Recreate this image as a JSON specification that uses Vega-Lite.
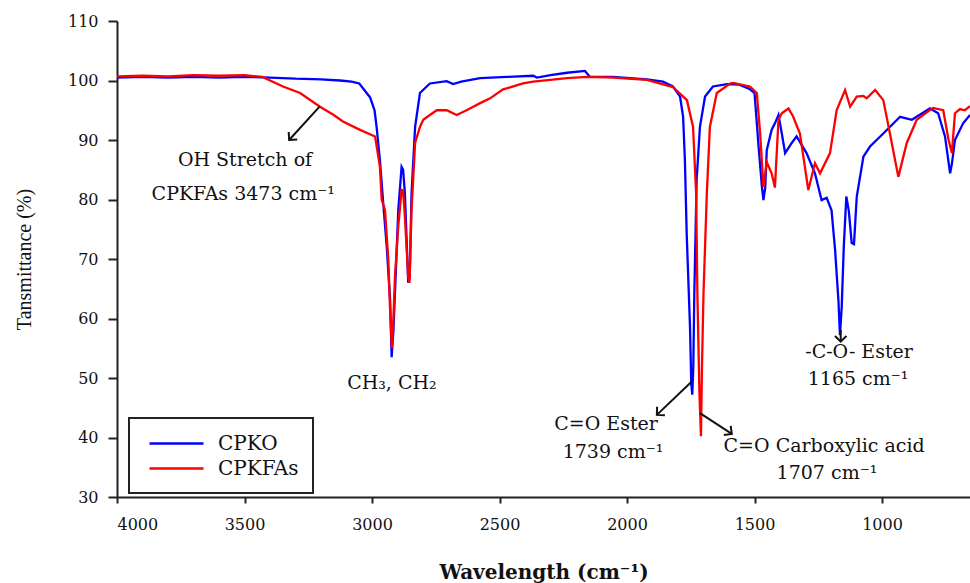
{
  "$schema": "https://vega.github.io/schema/vega-lite/v6.json",
  "width": 853,
  "height": 476,
  "autosize": {"type": "none"},
  "padding": {"left": 117, "top": 21, "right": 0, "bottom": 86},
  "background": "white",
  "config": {"view": {"stroke": null}, "font": "DejaVu Serif"},
  "datasets": {
    "spectra": [
      {"w": 4000, "t": 100.5, "s": "CPKO"}, {"w": 3900, "t": 100.6, "s": "CPKO"}, {"w": 3800, "t": 100.5, "s": "CPKO"},
      {"w": 3700, "t": 100.6, "s": "CPKO"}, {"w": 3600, "t": 100.5, "s": "CPKO"}, {"w": 3500, "t": 100.6, "s": "CPKO"},
      {"w": 3400, "t": 100.5, "s": "CPKO"}, {"w": 3300, "t": 100.3, "s": "CPKO"}, {"w": 3200, "t": 100.2, "s": "CPKO"},
      {"w": 3125, "t": 100.0, "s": "CPKO"}, {"w": 3080, "t": 99.8, "s": "CPKO"}, {"w": 3050, "t": 99.5, "s": "CPKO"},
      {"w": 3021, "t": 97.9, "s": "CPKO"}, {"w": 3008, "t": 97.2, "s": "CPKO"}, {"w": 2990, "t": 95.0, "s": "CPKO"},
      {"w": 2982, "t": 92.2, "s": "CPKO"}, {"w": 2969, "t": 86.6, "s": "CPKO"}, {"w": 2956, "t": 79.4, "s": "CPKO"},
      {"w": 2942, "t": 72.0, "s": "CPKO"}, {"w": 2929, "t": 63.0, "s": "CPKO"}, {"w": 2923, "t": 53.5, "s": "CPKO"},
      {"w": 2916, "t": 58.0, "s": "CPKO"}, {"w": 2910, "t": 64.3, "s": "CPKO"}, {"w": 2897, "t": 78.2, "s": "CPKO"},
      {"w": 2884, "t": 85.5, "s": "CPKO"}, {"w": 2878, "t": 85.0, "s": "CPKO"}, {"w": 2871, "t": 81.0, "s": "CPKO"},
      {"w": 2858, "t": 66.0, "s": "CPKO"}, {"w": 2852, "t": 67.0, "s": "CPKO"}, {"w": 2845, "t": 81.0, "s": "CPKO"},
      {"w": 2831, "t": 92.2, "s": "CPKO"}, {"w": 2812, "t": 97.9, "s": "CPKO"}, {"w": 2773, "t": 99.5, "s": "CPKO"},
      {"w": 2707, "t": 99.9, "s": "CPKO"}, {"w": 2682, "t": 99.4, "s": "CPKO"}, {"w": 2650, "t": 99.8, "s": "CPKO"},
      {"w": 2576, "t": 100.4, "s": "CPKO"}, {"w": 2470, "t": 100.6, "s": "CPKO"}, {"w": 2368, "t": 100.8, "s": "CPKO"},
      {"w": 2353, "t": 100.5, "s": "CPKO"}, {"w": 2300, "t": 100.9, "s": "CPKO"}, {"w": 2235, "t": 101.3, "s": "CPKO"},
      {"w": 2165, "t": 101.6, "s": "CPKO"}, {"w": 2145, "t": 100.6, "s": "CPKO"}, {"w": 2055, "t": 100.6, "s": "CPKO"},
      {"w": 1922, "t": 100.2, "s": "CPKO"}, {"w": 1859, "t": 99.8, "s": "CPKO"}, {"w": 1820, "t": 99.0, "s": "CPKO"},
      {"w": 1792, "t": 97.3, "s": "CPKO"}, {"w": 1780, "t": 93.9, "s": "CPKO"}, {"w": 1773, "t": 86.6, "s": "CPKO"},
      {"w": 1766, "t": 74.3, "s": "CPKO"}, {"w": 1753, "t": 58.6, "s": "CPKO"}, {"w": 1748, "t": 49.0, "s": "CPKO"},
      {"w": 1744, "t": 47.2, "s": "CPKO"}, {"w": 1740, "t": 52.0, "s": "CPKO"}, {"w": 1736, "t": 64.3, "s": "CPKO"},
      {"w": 1727, "t": 83.3, "s": "CPKO"}, {"w": 1714, "t": 92.2, "s": "CPKO"}, {"w": 1694, "t": 97.3, "s": "CPKO"},
      {"w": 1663, "t": 99.0, "s": "CPKO"}, {"w": 1608, "t": 99.4, "s": "CPKO"}, {"w": 1560, "t": 99.3, "s": "CPKO"},
      {"w": 1520, "t": 98.6, "s": "CPKO"}, {"w": 1500, "t": 97.9, "s": "CPKO"}, {"w": 1484, "t": 88.9, "s": "CPKO"},
      {"w": 1471, "t": 82.1, "s": "CPKO"}, {"w": 1465, "t": 79.9, "s": "CPKO"}, {"w": 1458, "t": 82.0, "s": "CPKO"},
      {"w": 1452, "t": 88.3, "s": "CPKO"}, {"w": 1433, "t": 91.7, "s": "CPKO"}, {"w": 1420, "t": 92.8, "s": "CPKO"},
      {"w": 1406, "t": 94.2, "s": "CPKO"}, {"w": 1393, "t": 91.1, "s": "CPKO"}, {"w": 1380, "t": 87.8, "s": "CPKO"},
      {"w": 1354, "t": 89.5, "s": "CPKO"}, {"w": 1335, "t": 90.6, "s": "CPKO"}, {"w": 1296, "t": 87.8, "s": "CPKO"},
      {"w": 1263, "t": 84.4, "s": "CPKO"}, {"w": 1237, "t": 79.9, "s": "CPKO"}, {"w": 1217, "t": 80.3, "s": "CPKO"},
      {"w": 1198, "t": 78.2, "s": "CPKO"}, {"w": 1184, "t": 71.5, "s": "CPKO"}, {"w": 1171, "t": 63.1, "s": "CPKO"},
      {"w": 1165, "t": 57.2, "s": "CPKO"}, {"w": 1158, "t": 62.0, "s": "CPKO"}, {"w": 1150, "t": 72.0, "s": "CPKO"},
      {"w": 1140, "t": 80.5, "s": "CPKO"}, {"w": 1130, "t": 78.0, "s": "CPKO"}, {"w": 1119, "t": 72.7, "s": "CPKO"},
      {"w": 1110, "t": 72.5, "s": "CPKO"}, {"w": 1099, "t": 80.5, "s": "CPKO"}, {"w": 1073, "t": 87.2, "s": "CPKO"},
      {"w": 1047, "t": 88.9, "s": "CPKO"}, {"w": 995, "t": 91.1, "s": "CPKO"}, {"w": 929, "t": 93.9, "s": "CPKO"},
      {"w": 883, "t": 93.4, "s": "CPKO"}, {"w": 812, "t": 95.3, "s": "CPKO"}, {"w": 780, "t": 94.5, "s": "CPKO"},
      {"w": 753, "t": 90.6, "s": "CPKO"}, {"w": 733, "t": 84.4, "s": "CPKO"}, {"w": 726, "t": 86.0, "s": "CPKO"},
      {"w": 714, "t": 90.0, "s": "CPKO"}, {"w": 682, "t": 92.8, "s": "CPKO"}, {"w": 655, "t": 94.2, "s": "CPKO"},

      {"w": 4000, "t": 100.7, "s": "CPKFAs"}, {"w": 3900, "t": 100.8, "s": "CPKFAs"}, {"w": 3800, "t": 100.7, "s": "CPKFAs"},
      {"w": 3700, "t": 100.9, "s": "CPKFAs"}, {"w": 3600, "t": 100.8, "s": "CPKFAs"}, {"w": 3500, "t": 100.9, "s": "CPKFAs"},
      {"w": 3430, "t": 100.6, "s": "CPKFAs"}, {"w": 3349, "t": 99.0, "s": "CPKFAs"}, {"w": 3282, "t": 97.9, "s": "CPKFAs"},
      {"w": 3204, "t": 95.6, "s": "CPKFAs"}, {"w": 3150, "t": 94.2, "s": "CPKFAs"}, {"w": 3114, "t": 93.1, "s": "CPKFAs"},
      {"w": 3047, "t": 91.7, "s": "CPKFAs"}, {"w": 2988, "t": 90.6, "s": "CPKFAs"}, {"w": 2969, "t": 85.5, "s": "CPKFAs"},
      {"w": 2962, "t": 80.0, "s": "CPKFAs"}, {"w": 2949, "t": 78.2, "s": "CPKFAs"}, {"w": 2936, "t": 69.8, "s": "CPKFAs"},
      {"w": 2929, "t": 61.4, "s": "CPKFAs"}, {"w": 2922, "t": 55.0, "s": "CPKFAs"}, {"w": 2916, "t": 60.0, "s": "CPKFAs"},
      {"w": 2910, "t": 67.0, "s": "CPKFAs"}, {"w": 2897, "t": 75.5, "s": "CPKFAs"}, {"w": 2884, "t": 81.6, "s": "CPKFAs"},
      {"w": 2878, "t": 81.5, "s": "CPKFAs"}, {"w": 2871, "t": 77.1, "s": "CPKFAs"}, {"w": 2858, "t": 67.0, "s": "CPKFAs"},
      {"w": 2853, "t": 66.0, "s": "CPKFAs"}, {"w": 2845, "t": 78.2, "s": "CPKFAs"}, {"w": 2831, "t": 89.5, "s": "CPKFAs"},
      {"w": 2812, "t": 92.2, "s": "CPKFAs"}, {"w": 2799, "t": 93.4, "s": "CPKFAs"}, {"w": 2773, "t": 94.2, "s": "CPKFAs"},
      {"w": 2746, "t": 95.0, "s": "CPKFAs"}, {"w": 2707, "t": 95.0, "s": "CPKFAs"}, {"w": 2668, "t": 94.2, "s": "CPKFAs"},
      {"w": 2629, "t": 95.0, "s": "CPKFAs"}, {"w": 2576, "t": 96.2, "s": "CPKFAs"}, {"w": 2537, "t": 97.0, "s": "CPKFAs"},
      {"w": 2486, "t": 98.5, "s": "CPKFAs"}, {"w": 2408, "t": 99.5, "s": "CPKFAs"}, {"w": 2368, "t": 99.8, "s": "CPKFAs"},
      {"w": 2235, "t": 100.4, "s": "CPKFAs"}, {"w": 2157, "t": 100.6, "s": "CPKFAs"}, {"w": 2055, "t": 100.5, "s": "CPKFAs"},
      {"w": 1922, "t": 100.1, "s": "CPKFAs"}, {"w": 1820, "t": 98.9, "s": "CPKFAs"}, {"w": 1765, "t": 96.7, "s": "CPKFAs"},
      {"w": 1741, "t": 92.2, "s": "CPKFAs"}, {"w": 1729, "t": 81.0, "s": "CPKFAs"}, {"w": 1724, "t": 64.0, "s": "CPKFAs"},
      {"w": 1716, "t": 47.5, "s": "CPKFAs"}, {"w": 1710, "t": 40.2, "s": "CPKFAs"}, {"w": 1706, "t": 52.0, "s": "CPKFAs"},
      {"w": 1700, "t": 64.3, "s": "CPKFAs"}, {"w": 1687, "t": 81.0, "s": "CPKFAs"}, {"w": 1675, "t": 92.2, "s": "CPKFAs"},
      {"w": 1648, "t": 97.9, "s": "CPKFAs"}, {"w": 1596, "t": 99.5, "s": "CPKFAs"}, {"w": 1584, "t": 99.6, "s": "CPKFAs"},
      {"w": 1518, "t": 99.0, "s": "CPKFAs"}, {"w": 1491, "t": 97.9, "s": "CPKFAs"}, {"w": 1478, "t": 91.1, "s": "CPKFAs"},
      {"w": 1465, "t": 82.1, "s": "CPKFAs"}, {"w": 1452, "t": 86.3, "s": "CPKFAs"}, {"w": 1433, "t": 84.4, "s": "CPKFAs"},
      {"w": 1420, "t": 82.0, "s": "CPKFAs"}, {"w": 1406, "t": 93.4, "s": "CPKFAs"}, {"w": 1393, "t": 94.5, "s": "CPKFAs"},
      {"w": 1367, "t": 95.3, "s": "CPKFAs"}, {"w": 1349, "t": 94.0, "s": "CPKFAs"}, {"w": 1322, "t": 91.1, "s": "CPKFAs"},
      {"w": 1289, "t": 81.6, "s": "CPKFAs"}, {"w": 1263, "t": 86.1, "s": "CPKFAs"}, {"w": 1243, "t": 84.4, "s": "CPKFAs"},
      {"w": 1204, "t": 87.8, "s": "CPKFAs"}, {"w": 1178, "t": 95.0, "s": "CPKFAs"}, {"w": 1145, "t": 98.4, "s": "CPKFAs"},
      {"w": 1125, "t": 95.6, "s": "CPKFAs"}, {"w": 1099, "t": 97.3, "s": "CPKFAs"}, {"w": 1073, "t": 97.4, "s": "CPKFAs"},
      {"w": 1060, "t": 97.0, "s": "CPKFAs"}, {"w": 1027, "t": 98.4, "s": "CPKFAs"}, {"w": 995, "t": 96.7, "s": "CPKFAs"},
      {"w": 969, "t": 91.1, "s": "CPKFAs"}, {"w": 936, "t": 83.8, "s": "CPKFAs"}, {"w": 903, "t": 89.5, "s": "CPKFAs"},
      {"w": 864, "t": 93.4, "s": "CPKFAs"}, {"w": 800, "t": 95.4, "s": "CPKFAs"}, {"w": 760, "t": 95.0, "s": "CPKFAs"},
      {"w": 739, "t": 90.0, "s": "CPKFAs"}, {"w": 726, "t": 87.8, "s": "CPKFAs"}, {"w": 714, "t": 94.5, "s": "CPKFAs"},
      {"w": 694, "t": 95.2, "s": "CPKFAs"}, {"w": 675, "t": 95.0, "s": "CPKFAs"}, {"w": 655, "t": 95.7, "s": "CPKFAs"}
    ],
    "notes": [
      {"w": 3498, "t": 86.6, "label": "OH Stretch of"},
      {"w": 3505, "t": 81.0, "label": "CPKFAs 3473 cm⁻¹"},
      {"w": 2922, "t": 49.2, "label": "CH₃, CH₂"},
      {"w": 2082, "t": 42.3, "label": "C=O Ester"},
      {"w": 2055, "t": 37.6, "label": "1739   cm⁻¹"},
      {"w": 1227, "t": 38.6, "label": "C=O Carboxylic acid"},
      {"w": 1216, "t": 34.0, "label": "1707 cm⁻¹"},
      {"w": 1090, "t": 54.4, "label": "-C-O-  Ester"},
      {"w": 1094, "t": 49.8, "label": "1165 cm⁻¹"}
    ],
    "arrows": [
      {"w": 3204, "t": 95.7, "w2": 3325, "t2": 90.0, "angle": 132},
      {"w": 1746, "t": 49.4, "w2": 1883, "t2": 43.8, "angle": 137},
      {"w": 1714, "t": 44.1, "w2": 1589, "t2": 40.6, "angle": 37},
      {"w": 1162, "t": 58.1, "w2": 1162, "t2": 56.1, "angle": 90}
    ]
  },
  "layer": [
    {
      "data": {"name": "spectra"},
      "mark": {"type": "line", "strokeWidth": 2.3, "clip": true},
      "encoding": {
        "x": {
          "field": "w", "type": "quantitative",
          "scale": {"domain": [4000, 655], "nice": false, "zero": false},
          "axis": {
            "values": [4000, 3500, 3000, 2500, 2000, 1500, 1000], "format": "d",
            "title": "Wavelength (cm⁻¹)", "grid": false,
            "domainColor": "#222", "domainWidth": 2, "tickColor": "#222", "tickWidth": 2, "tickSize": 6,
            "labelFont": "DejaVu Serif", "labelFontSize": 16, "labelColor": "#111", "labelPadding": 13,
            "titleFont": "DejaVu Serif", "titleFontSize": 20, "titleFontWeight": "bold", "titleColor": "#111", "titlePadding": 30
          }
        },
        "y": {
          "field": "t", "type": "quantitative",
          "scale": {"domain": [30, 110], "nice": false, "zero": false},
          "axis": {
            "values": [30, 40, 50, 60, 70, 80, 90, 100, 110],
            "title": "Tansmittance (%)", "grid": false,
            "domainColor": "#222", "domainWidth": 2, "tickColor": "#222", "tickWidth": 2, "tickSize": 9,
            "labelFont": "DejaVu Serif", "labelFontSize": 16, "labelColor": "#111", "labelPadding": 10,
            "titleFont": "Liberation Serif", "titleFontSize": 20, "titleFontWeight": "normal", "titleColor": "#111", "titlePadding": 33
          }
        },
        "color": {
          "field": "s", "type": "nominal",
          "scale": {"domain": ["CPKO", "CPKFAs"], "range": ["#0000ff", "#ff0000"]},
          "legend": {
            "title": null, "orient": "none", "legendX": 12, "legendY": 397,
            "symbolType": "M -0.5 0 L 4.9 0", "symbolSize": 400, "symbolStrokeWidth": 2.5,
            "labelFont": "DejaVu Serif", "labelFontSize": 20, "labelColor": "#111", "labelOffset": 52, "labelLimit": 300,
            "padding": 14, "rowPadding": 3, "strokeColor": "#222", "fillColor": "white",
            "encode": {"legend": {"update": {"strokeWidth": {"value": 2}}}}
          }
        }
      }
    },
    {
      "mark": {"type": "rule", "color": "#777", "strokeWidth": 2},
      "encoding": {"y": {"datum": 110, "type": "quantitative"}}
    },
    {
      "data": {"name": "arrows"},
      "mark": {"type": "rule", "color": "#111", "strokeWidth": 2},
      "encoding": {
        "x": {"field": "w", "type": "quantitative"},
        "y": {"field": "t", "type": "quantitative"},
        "x2": {"field": "w2"},
        "y2": {"field": "t2"}
      }
    },
    {
      "data": {"name": "arrows"},
      "mark": {"type": "point", "shape": "M -1 -1 L 0 0 L -1 1", "filled": false, "color": "#111", "strokeWidth": 2, "size": 130, "opacity": 1},
      "encoding": {
        "x": {"field": "w2", "type": "quantitative"},
        "y": {"field": "t2", "type": "quantitative"},
        "angle": {"field": "angle", "type": "quantitative", "scale": null}
      }
    },
    {
      "data": {"name": "notes"},
      "mark": {"type": "text", "font": "DejaVu Serif", "fontSize": 19, "color": "#111", "align": "center", "baseline": "middle"},
      "encoding": {
        "x": {"field": "w", "type": "quantitative"},
        "y": {"field": "t", "type": "quantitative"},
        "text": {"field": "label"}
      }
    }
  ]
}
